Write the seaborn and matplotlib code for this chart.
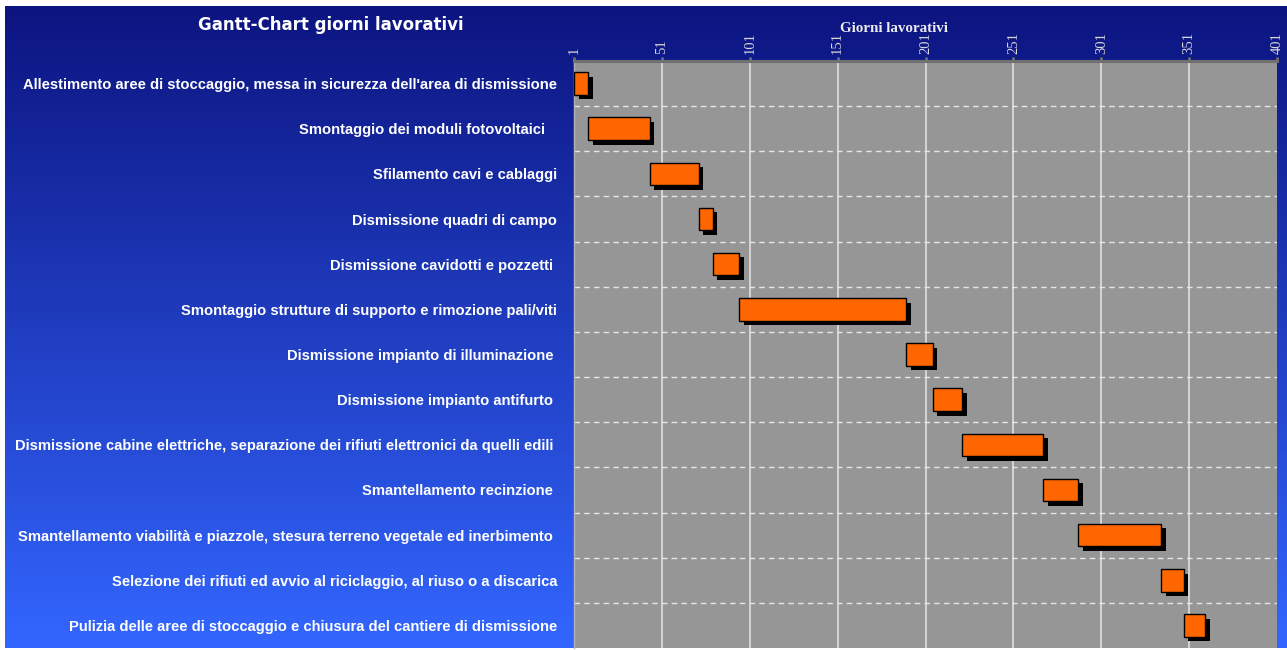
import numpy as np
import pandas as pd
import matplotlib
matplotlib.use("Agg")
import matplotlib.pyplot as plt
import matplotlib.patheffects as pe
import seaborn as sns

# Activities of the decommissioning schedule (top to bottom)
tasks = [
    "Allestimento aree di stoccaggio, messa in sicurezza dell'area di dismissione",
    "Smontaggio dei moduli fotovoltaici   ",
    "Sfilamento cavi e cablaggi",
    "Dismissione quadri di campo",
    "Dismissione cavidotti e pozzetti ",
    "Smontaggio strutture di supporto e rimozione pali/viti",
    "Dismissione impianto di illuminazione ",
    "Dismissione impianto antifurto ",
    "Dismissione cabine elettriche, separazione dei rifiuti elettronici da quelli edili ",
    "Smantellamento recinzione ",
    "Smantellamento viabilità e piazzole, stesura terreno vegetale ed inerbimento ",
    "Selezione dei rifiuti ed avvio al riciclaggio, al riuso o a discarica",
    "Pulizia delle aree di stoccaggio e chiusura del cantiere di dismissione",
]
# Start day and duration (working days) of each activity
start_day = [1, 9, 44, 72, 80, 95, 190, 205, 222, 268, 288, 335, 348]
duration = [8, 35, 28, 8, 15, 95, 15, 17, 46, 20, 47, 13, 12]
# Day ticks on the top axis
day_ticks = [1, 51, 101, 151, 201, 251, 301, 351, 401]

df = pd.DataFrame({"task": tasks, "start": start_day, "dur": duration})

sns.set_style("white")
W, H = 1287, 650
fig = plt.figure(figsize=(W / 100, H / 100), dpi=100)
fig.patch.set_facecolor("white")

# Vertical blue gradient backdrop
bg = fig.add_axes([5 / W, 2 / H, 1 - 5 / W, (648 - 6) / H])
top_c = np.array([12, 20, 128]) / 255
bot_c = np.array([51, 102, 255]) / 255
t = np.linspace(0, 1, 256)[:, None]
grad = top_c[None, :] * (1 - t) + bot_c[None, :] * t
bg.imshow(grad[:, None, :], aspect="auto", extent=[0, 1, 0, 1])
bg.set_axis_off()

# Chart area
ax = fig.add_axes([574 / W, 2 / H, (1277 - 574) / W, (648 - 61) / H])
ax.set_facecolor("#969696")

sns.barplot(
    data=df, x="dur", y="task", left=df["start"], orient="y",
    color="#ff6600", saturation=1, errorbar=None, width=0.5,
    edgecolor="black", linewidth=1.0, ax=ax,
    path_effects=[pe.SimplePatchShadow(offset=(3.3, -3.3), shadow_rgbFace="black", alpha=1.0),
                  pe.Normal()],
    zorder=3,
)

ax.set_xlim(1, 401)
ax.set_ylim(len(tasks) - 0.5, -0.5)

# Grid: solid vertical day lines, dashed row separators
for d in day_ticks[1:-1]:
    ax.axvline(d, color="#e6e6e6", lw=1.1, zorder=1)
for k in range(len(tasks) - 1):
    ax.axhline(k + 0.5, color="#e6e6e6", lw=1.0, ls=(0, (4, 3)), zorder=1)

ax.xaxis.tick_top()
ax.set_xticks(day_ticks)
ax.set_xticklabels([str(d) for d in day_ticks], rotation=90,
                   fontfamily="Liberation Serif", fontsize=10.5, color="#d8d8d8")
ax.tick_params(axis="x", top=True, bottom=False, length=3, width=2,
               color="#707070", pad=2)
ax.set_xlabel("")
ax.set_ylabel("")
ax.tick_params(axis="y", left=False, length=0, pad=12)
for lab in ax.get_yticklabels():
    lab.set_fontfamily("Liberation Sans")
    lab.set_fontweight("bold")
    lab.set_fontsize(10.6)
    lab.set_color("white")

for s in ["right", "bottom"]:
    ax.spines[s].set_visible(False)
ax.spines["top"].set_color("#707070")
ax.spines["top"].set_linewidth(2.2)
ax.spines["left"].set_color("#b4b4b4")
ax.spines["left"].set_linewidth(1.0)

fig.text(331 / W, 1 - 25 / H, "Gantt-Chart giorni lavorativi", color="white",
         fontfamily="DejaVu Sans", fontweight="bold", fontsize=12,
         ha="center", va="center")
fig.text(894 / W, 1 - 28 / H, "Giorni lavorativi", color="#ececec",
         fontfamily="Liberation Serif", fontweight="bold", fontsize=10.8,
         ha="center", va="center")

fig.savefig("out.png", dpi=100, facecolor="white")
